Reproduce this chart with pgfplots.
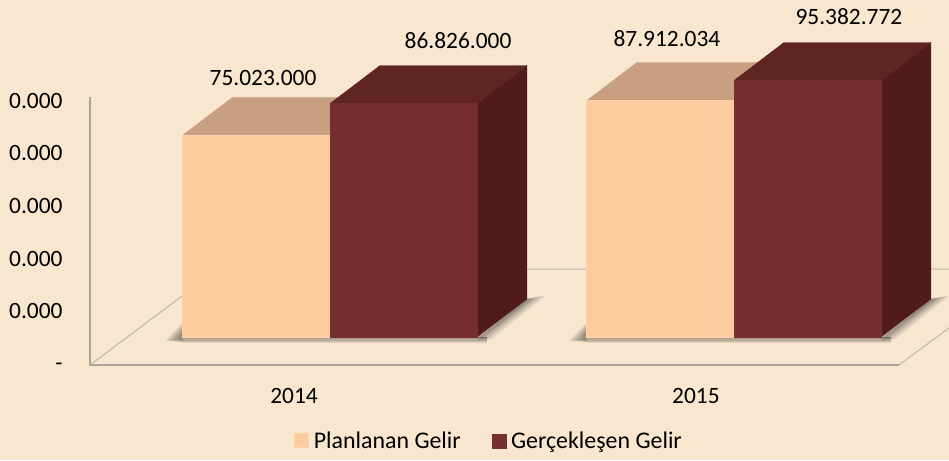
\documentclass[border=0pt]{standalone}
\usepackage{pgfplots}
\pgfplotsset{compat=1.18}
\usepackage{fontspec}
\setmainfont{Carlito}
\definecolor{bgc}{HTML}{F9E6CF}
\definecolor{pf}{HTML}{FDCBA0}
\definecolor{pt}{HTML}{C89F80}
\definecolor{af}{HTML}{772E2E}
\definecolor{at}{HTML}{5E2521}
\definecolor{as}{HTML}{521B1B}
\definecolor{axl}{HTML}{A9A399}
\newcommand\fs{\fontsize{23.5}{24}\selectfont}
\pgfplotsset{shd/.style={forget plot, draw=none, fill=black, fill opacity=0.09}}
\begin{document}
\begin{tikzpicture}
\begin{axis}[
  width=949bp, height=460bp, scale only axis,
  xmin=0, xmax=949, ymin=-45.72, ymax=125.28,
  axis background/.style={fill=bgc},
  axis line style={draw=none},
  major tick length=0pt,
  xtick={294,696}, xticklabels={2014,2015},
  xticklabel style={font=\fs, anchor=center, yshift=64bp},
  ytick={87.9,68.6,48.9,29.2,9.5,-11.2},
  yticklabels={0.000,0.000,0.000,0.000,0.000,-},
  yticklabel style={font=\fs, anchor=east, xshift=66bp},
  clip=true,
  legend style={draw=none, fill=none, at={(0.5,0.0)}, anchor=south, xshift=14.5bp, yshift=8bp,
    font=\fontsize{24}{24}\selectfont, legend columns=2,
    /tikz/every odd column/.append style={column sep=3bp},
    /tikz/every even column/.append style={column sep=29bp},
    inner sep=0pt},
  legend cell align=left,
  legend image code/.code={\fill[#1] (0bp,-7bp) rectangle (14bp,7bp);},
]
% wall and floor lines
\addplot[forget plot, draw=axl, line width=1.4pt] coordinates {(90,89.2)(90,-10.41)(899,-10.41)};
\addplot[forget plot, draw=axl!70!bgc, line width=1pt] coordinates {(899,-10.41)(949,3.35)};
\addplot[forget plot, draw=axl!75!bgc, line width=1pt] coordinates {(90,-10.41)(218,25.28)(949,25.28)};
% shadows 2014
\addplot[shd] coordinates {(165,-1.4)(183,5.5)(183,-1.9)} --cycle;
\addplot[shd] coordinates {(168,-1.3)(183,4.8)(183,-1.8)} --cycle;
\addplot[shd] coordinates {(171,-1.2)(183,4)(183,-1.7)} --cycle;
\addplot[shd] coordinates {(174,-1)(183,3.2)(183,-1.5)} --cycle;
\addplot[shd] coordinates {(177,-0.8)(183,2.4)(183,-1.3)} --cycle;
\addplot[shd] coordinates {(183,0)(487,0)(487,-0.5)(183,-0.5)} --cycle;
\addplot[shd] coordinates {(183,0)(487,0)(487,-0.9)(183,-0.9)} --cycle;
\addplot[shd] coordinates {(183,0)(487,0)(487,-1.3)(183,-1.3)} --cycle;
\addplot[shd] coordinates {(183,0)(487,0)(487,-1.7)(183,-1.7)} --cycle;
\addplot[shd] coordinates {(183,0)(487,0)(487,-2.1)(183,-2.1)} --cycle;
\addplot[shd] coordinates {(477,-1.4)(527,14.13)(546,15.5)(491,-0.9)} --cycle;
\addplot[shd] coordinates {(477,-1)(527,14.13)(542,15.2)(488,-0.5)} --cycle;
\addplot[shd] coordinates {(477,-0.5)(527,14.13)(538,14.9)(486,-0.2)} --cycle;
\addplot[shd] coordinates {(477,0)(527,14.13)(535,14.7)(484,0)} --cycle;
\addplot[shd] coordinates {(477,0)(527,14.13)(532,14.5)(482,0)} --cycle;
\addplot[shd] coordinates {(477,0)(527,14.13)(530,14.3)(480,0)} --cycle;
% shadows 2015
\addplot[shd] coordinates {(569,-1.4)(587,5.5)(587,-1.9)} --cycle;
\addplot[shd] coordinates {(572,-1.3)(587,4.8)(587,-1.8)} --cycle;
\addplot[shd] coordinates {(575,-1.2)(587,4)(587,-1.7)} --cycle;
\addplot[shd] coordinates {(578,-1)(587,3.2)(587,-1.5)} --cycle;
\addplot[shd] coordinates {(581,-0.8)(587,2.4)(587,-1.3)} --cycle;
\addplot[shd] coordinates {(587,0)(891,0)(891,-0.5)(587,-0.5)} --cycle;
\addplot[shd] coordinates {(587,0)(891,0)(891,-0.9)(587,-0.9)} --cycle;
\addplot[shd] coordinates {(587,0)(891,0)(891,-1.3)(587,-1.3)} --cycle;
\addplot[shd] coordinates {(587,0)(891,0)(891,-1.7)(587,-1.7)} --cycle;
\addplot[shd] coordinates {(587,0)(891,0)(891,-2.1)(587,-2.1)} --cycle;
\addplot[shd] coordinates {(881,-1.4)(931,14.13)(950,15.5)(895,-0.9)} --cycle;
\addplot[shd] coordinates {(881,-1)(931,14.13)(946,15.2)(892,-0.5)} --cycle;
\addplot[shd] coordinates {(881,-0.5)(931,14.13)(942,14.9)(890,-0.2)} --cycle;
\addplot[shd] coordinates {(881,0)(931,14.13)(939,14.7)(888,0)} --cycle;
\addplot[shd] coordinates {(881,0)(931,14.13)(936,14.5)(886,0)} --cycle;
\addplot[shd] coordinates {(881,0)(931,14.13)(934,14.3)(884,0)} --cycle;
% 2014 planned
\addplot[forget plot, fill=pt, draw=pt!90!white, line width=0.4pt] coordinates {(182.5,75.023)(232.5,89.153)(380,89.153)(330,75.023)} --cycle;
\addplot[fill=pf, draw=pf!85!white, line width=0.6pt] coordinates {(182.5,0)(330,0)(330,75.023)(182.5,75.023)} --cycle;
\addlegendentry{Planlanan Gelir}
% 2014 actual
\addplot[forget plot, fill=as, draw=as, line width=0.3pt] coordinates {(477,0)(527,14.13)(527,100.956)(477,86.826)} --cycle;
\addplot[forget plot, fill=at, draw=at, line width=0.3pt] coordinates {(330,86.826)(380,100.956)(527,100.956)(477,86.826)} --cycle;
\addplot[fill=af, draw=af, line width=0.3pt] coordinates {(330,0)(477,0)(477,86.826)(330,86.826)} --cycle;
\addlegendentry{Gerçekleşen Gelir}
% 2015 planned
\addplot[forget plot, fill=pt, draw=pt!90!white, line width=0.4pt] coordinates {(586.7,87.912)(636.7,102.042)(784,102.042)(734,87.912)} --cycle;
\addplot[forget plot, fill=pf, draw=pf!85!white, line width=0.6pt] coordinates {(586.7,0)(734,0)(734,87.912)(586.7,87.912)} --cycle;
% 2015 actual
\addplot[forget plot, fill=as, draw=as, line width=0.3pt] coordinates {(881,0)(931,14.13)(931,109.513)(881,95.383)} --cycle;
\addplot[forget plot, fill=at, draw=at, line width=0.3pt] coordinates {(734,95.383)(784,109.513)(931,109.513)(881,95.383)} --cycle;
\addplot[forget plot, fill=af, draw=af, line width=0.3pt] coordinates {(734,0)(881,0)(881,95.383)(734,95.383)} --cycle;
% data labels
\node[font=\fs] at (axis cs:263,96.28) {75.023.000};
\node[font=\fs] at (axis cs:458,110.04) {86.826.000};
\node[font=\fs] at (axis cs:667,111.15) {87.912.034};
\node[font=\fs] at (axis cs:849,118.96) {95.382.772};
\end{axis}
\end{tikzpicture}
\end{document}
